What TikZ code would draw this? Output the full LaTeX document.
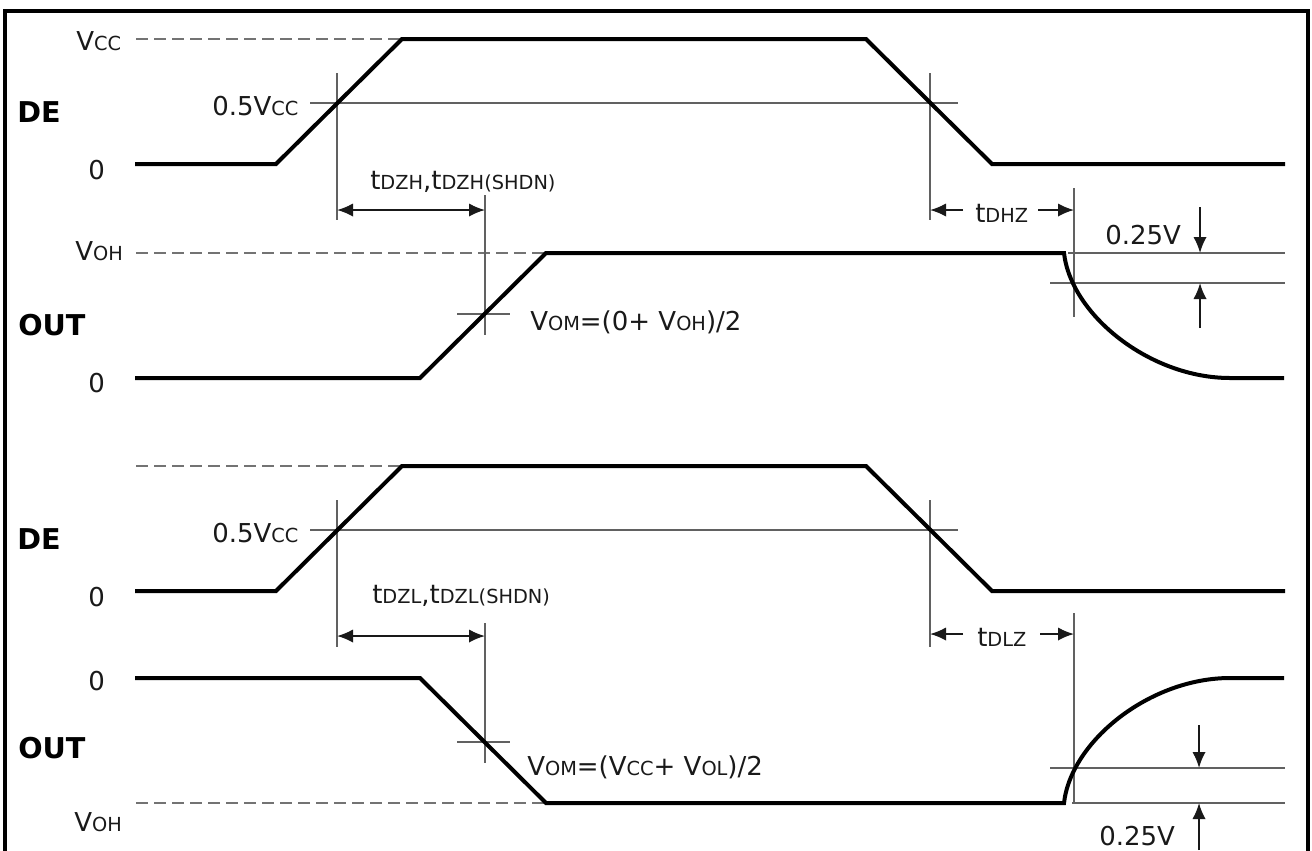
\documentclass[tikz,border=0pt]{standalone}
\usepackage{fontspec}
\setmainfont{DejaVu Sans}
\usetikzlibrary{arrows.meta}
\newcommand\sbx[1]{{\fontsize{14.5}{16}\selectfont #1}}
\begin{document}
\begin{tikzpicture}[x=0.75pt,y=-0.75pt,
  sig/.style={line width=3pt},
  thinln/.style={line width=1.2pt, draw=black!62},
  dsh/.style={line width=1.4pt, draw=black!55, dash pattern=on 9pt off 4.5pt},
  tip/.tip={Latex[length=12pt,width=10pt]},
  dimarrow/.style={line width=1.4pt, draw=black!90, -tip},
  dimboth/.style={line width=1.4pt, draw=black!90, tip-tip},
  lbl/.style={anchor=base west, inner sep=0pt, text=black!90, font=\fontsize{19.5}{22}\selectfont},
  blbl/.style={anchor=base west, inner sep=0pt, font=\fontsize{21.5}{24}\selectfont\bfseries}]
\useasboundingbox (0,0) rectangle (1312,850);
% frame
\draw[line width=3pt] (5,870) -- (5,10.5) -- (1307.5,10.5) -- (1307.5,870);

% ================= TOP HALF =================
\draw[dsh] (136,39) -- (402,39);
\draw[dsh] (136,253) -- (546,253);
\draw[thinln] (310,103) -- (958,103);
\draw[thinln] (337,73) -- (337,220);
\draw[thinln] (930,73) -- (930,220);
\draw[thinln] (485,195) -- (485,335);
\draw[thinln] (457,314) -- (510,314);
\draw[thinln] (1074,188) -- (1074,317);
\draw[thinln] (1068,253) -- (1285,253);
\draw[thinln] (1050,283) -- (1285,283);
\draw[sig] (135,164) -- (276,164) -- (402,39) -- (866,39) -- (992,164) -- (1285,164);
\draw[sig] (135,378) -- (420,378) -- (546,253) -- (1064,253)
  .. controls (1071,315) and (1150,378) .. (1230,378) -- (1284,378);
\coordinate (a1) at (337,210); \coordinate (a2) at (485,210);
\draw[dimboth] (a1) -- (a2);
\coordinate (b1) at (963,210); \coordinate (b2) at (930,210);
\coordinate (b3) at (1038,210); \coordinate (b4) at (1074,210);
\draw[dimarrow] (b1) -- (b2);
\draw[dimarrow] (b3) -- (b4);
\coordinate (c1) at (1200,207); \coordinate (c2) at (1200,253);
\coordinate (c3) at (1200,328); \coordinate (c4) at (1200,283);
\draw[dimarrow] (c1) -- (c2);
\draw[dimarrow] (c3) -- (c4);
\node[lbl] (vcc) at (76,50) {V\sbx{CC}};
\node[blbl] (de1) at (17,122) {DE};
\node[lbl] (half1) at (212,115) {0.5V\sbx{CC}};
\node[lbl] (zero1) at (88,179) {0};
\node[lbl] (tdzh) at (370,189) {t\sbx{DZH},t\sbx{DZH(SHDN)}};
\node[lbl] (tdhz) at (975,222) {t\sbx{DHZ}};
\node[lbl] (q1) at (1105,244) {0.25V};
\node[lbl] (voh1) at (75,260) {V\sbx{OH}};
\node[blbl] (out1) at (18,335) {OUT};
\node[lbl] (zero2) at (88,392) {0};
\node[lbl] (vom1) at (530,330) {V\sbx{OM}=(0+ V\sbx{OH})/2};

% ================= BOTTOM HALF =================
\draw[dsh] (136,466) -- (402,466);
\draw[dsh] (136,803) -- (546,803);
\draw[thinln] (310,530) -- (958,530);
\draw[thinln] (337,500) -- (337,647);
\draw[thinln] (930,500) -- (930,647);
\draw[thinln] (485,623) -- (485,763);
\draw[thinln] (457,742) -- (510,742);
\draw[thinln] (1074,613) -- (1074,803);
\draw[thinln] (1050,768) -- (1285,768);
\draw[thinln] (1072,803) -- (1285,803);
\draw[sig] (135,591) -- (276,591) -- (402,466) -- (866,466) -- (992,591) -- (1285,591);
\draw[sig] (135,678) -- (420,678) -- (546,803) -- (1064,803)
  .. controls (1071,741) and (1150,678) .. (1230,678) -- (1284,678);
\coordinate (d1) at (337,636); \coordinate (d2) at (485,636);
\draw[dimboth] (d1) -- (d2);
\coordinate (e1) at (963,634); \coordinate (e2) at (930,634);
\coordinate (e3) at (1040,634); \coordinate (e4) at (1074,634);
\draw[dimarrow] (e1) -- (e2);
\draw[dimarrow] (e3) -- (e4);
\coordinate (f1) at (1199,725); \coordinate (f2) at (1199,768);
\coordinate (f3) at (1199,850); \coordinate (f4) at (1199,803);
\draw[dimarrow] (f1) -- (f2);
\draw[dimarrow] (f3) -- (f4);
\node[blbl] (de2) at (17,549) {DE};
\node[lbl] (half2) at (212,542) {0.5V\sbx{CC}};
\node[lbl] (zero3) at (88,606) {0};
\node[lbl] (tdzl) at (372,603) {t\sbx{DZL},t\sbx{DZL(SHDN)}};
\node[lbl] (tdlz) at (977,646) {t\sbx{DLZ}};
\node[lbl] (zero4) at (88,690) {0};
\node[blbl] (out2) at (18,758) {OUT};
\node[lbl] (vom2) at (527,775) {V\sbx{OM}=(V\sbx{CC}+ V\sbx{OL})/2};
\node[lbl] (voh2) at (74,831) {V\sbx{OH}};
\node[lbl] (q2) at (1099,845) {0.25V};
\end{tikzpicture}
\end{document}
